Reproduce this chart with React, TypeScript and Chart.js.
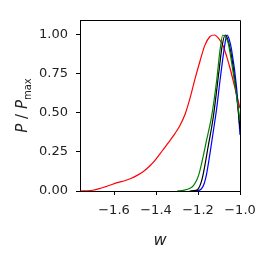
import React, { useEffect, useRef } from "react";
import { Chart, registerables } from "chart.js";

Chart.register(...registerables);

const redW = [-1.762, -1.73, -1.7, -1.67, -1.64, -1.61, -1.58, -1.55, -1.52, -1.49, -1.46, -1.43, -1.4, -1.37, -1.34, -1.31, -1.286, -1.262, -1.238, -1.214, -1.19, -1.167, -1.143, -1.122, -1.1, -1.08, -1.063, -1.048, -1.024, -1.0];
const redP = [0, 0.001, 0.005, 0.015, 0.028, 0.042, 0.055, 0.066, 0.08, 0.1, 0.125, 0.16, 0.205, 0.258, 0.312, 0.368, 0.42, 0.49, 0.595, 0.72, 0.835, 0.935, 0.99, 1.0, 0.975, 0.93, 0.86, 0.79, 0.66, 0.53];

const greenW = [-1.3, -1.27, -1.238, -1.22, -1.206, -1.195, -1.183, -1.159, -1.135, -1.111, -1.095, -1.082, -1.068, -1.056, -1.032, -1.016, -1.0];
const greenP = [0, 0.004, 0.017, 0.038, 0.07, 0.11, 0.175, 0.327, 0.48, 0.71, 0.904, 1.0, 0.985, 0.947, 0.754, 0.605, 0.45];

const blackW = [-1.24, -1.21, -1.198, -1.185, -1.175, -1.151, -1.127, -1.1, -1.085, -1.071, -1.058, -1.04, -1.02, -1.0];
const blackP = [0, 0.004, 0.015, 0.055, 0.11, 0.29, 0.476, 0.77, 0.93, 1.0, 0.97, 0.86, 0.66, 0.4];

const blueW = [-1.22, -1.195, -1.183, -1.17, -1.159, -1.143, -1.119, -1.111, -1.095, -1.071, -1.062, -1.052, -1.04, -1.016, -1.0];
const blueP = [0, 0.004, 0.015, 0.05, 0.11, 0.24, 0.455, 0.53, 0.71, 0.95, 1.0, 0.975, 0.904, 0.66, 0.36];

const xTicks = [-1.6, -1.4, -1.2, -1.0];
const yTicks = [0, 0.25, 0.5, 0.75, 1.0];

const FONT = "'DejaVu Sans', sans-serif";

function pts(w: number[], p: number[]) {
  return w.map((x, i) => ({ x, y: p[i] }));
}

const framePlugin = {
  id: "frame",
  afterDraw(chart: any) {
    const { ctx, chartArea } = chart;
    const { left, right, top, bottom } = chartArea;
    ctx.save();
    ctx.strokeStyle = "#000";
    ctx.lineWidth = 1;
    ctx.beginPath();
    ctx.moveTo(left, top + 0.5);
    ctx.lineTo(right + 0.5, top + 0.5);
    ctx.lineTo(right + 0.5, bottom);
    ctx.stroke();

    ctx.fillStyle = "#222";
    ctx.font = `italic 16px ${FONT}`;
    ctx.textAlign = "center";
    ctx.textBaseline = "middle";
    ctx.fillText("w", (left + right) / 2, 241);

    ctx.translate(22, (top + bottom) / 2);
    ctx.rotate(-Math.PI / 2);
    const parts: [string, string, number][] = [
      ["P", `italic 15px ${FONT}`, 0],
      [" / ", `15px ${FONT}`, 0],
      ["P", `italic 15px ${FONT}`, 0],
      ["max", `10px ${FONT}`, 4],
    ];
    let total = 0;
    for (const [t, f] of parts) {
      ctx.font = f;
      total += ctx.measureText(t).width;
    }
    let x = -total / 2;
    ctx.textAlign = "left";
    ctx.textBaseline = "alphabetic";
    for (const [t, f, dy] of parts) {
      ctx.font = f;
      ctx.fillText(t, x, 5 + dy);
      x += ctx.measureText(t).width;
    }
    ctx.restore();
  },
};

export default function App() {
  const ref = useRef<HTMLCanvasElement>(null);
  useEffect(() => {
    if (!ref.current) return;
    const line = (data: any, color: string) => ({
      data,
      borderColor: color,
      borderWidth: 1.2,
      pointRadius: 0,
      fill: false,
      tension: 0.4,
      cubicInterpolationMode: "monotone" as const,
    });
    const chart = new Chart(ref.current, {
      type: "line",
      data: {
        datasets: [
          line(pts(greenW, greenP), "#008000"),
          line(pts(blackW, blackP), "#000000"),
          line(pts(blueW, blueP), "#0000ff"),
          line(pts(redW, redP), "#ff0000"),
        ],
      },
      options: {
        animation: false,
        responsive: false,
        layout: { padding: { top: 20, right: 30, left: 0, bottom: 0 } },
        plugins: { legend: { display: false }, tooltip: { enabled: false } },
        scales: {
          x: {
            type: "linear",
            min: -1.762,
            max: -1.0,
            afterBuildTicks: (s: any) => {
              s.ticks = xTicks.map((v) => ({ value: v }));
            },
            afterFit: (s: any) => {
              s.height = 73;
            },
            grid: { drawOnChartArea: false, tickLength: 4, color: "#000" },
            border: { color: "#000", width: 1 },
            ticks: {
              color: "#222",
              font: { family: FONT, size: 13 },
              padding: 8,
              maxRotation: 0,
              autoSkip: false,
              callback: (v: any) => (v < 0 ? "\u2212" : "") + Math.abs(Number(v)).toFixed(1),
            },
          },
          y: {
            type: "linear",
            min: 0,
            max: 1.096,
            afterBuildTicks: (s: any) => {
              s.ticks = yTicks.map((v) => ({ value: v }));
            },
            afterFit: (s: any) => {
              s.width = 80;
            },
            grid: { drawOnChartArea: false, tickLength: 4, color: "#000" },
            border: { color: "#000", width: 1 },
            ticks: {
              color: "#222",
              font: { family: FONT, size: 13 },
              padding: 8,
              autoSkip: false,
              callback: (v: any) => Number(v).toFixed(2),
            },
          },
        },
      },
      plugins: [framePlugin],
    });
    return () => chart.destroy();
  }, []);
  return (
    <div style={{ position: "absolute", left: 0, top: 0, width: 270, height: 264, background: "#fff" }}>
      <canvas ref={ref} width={270} height={264} />
    </div>
  );
}
